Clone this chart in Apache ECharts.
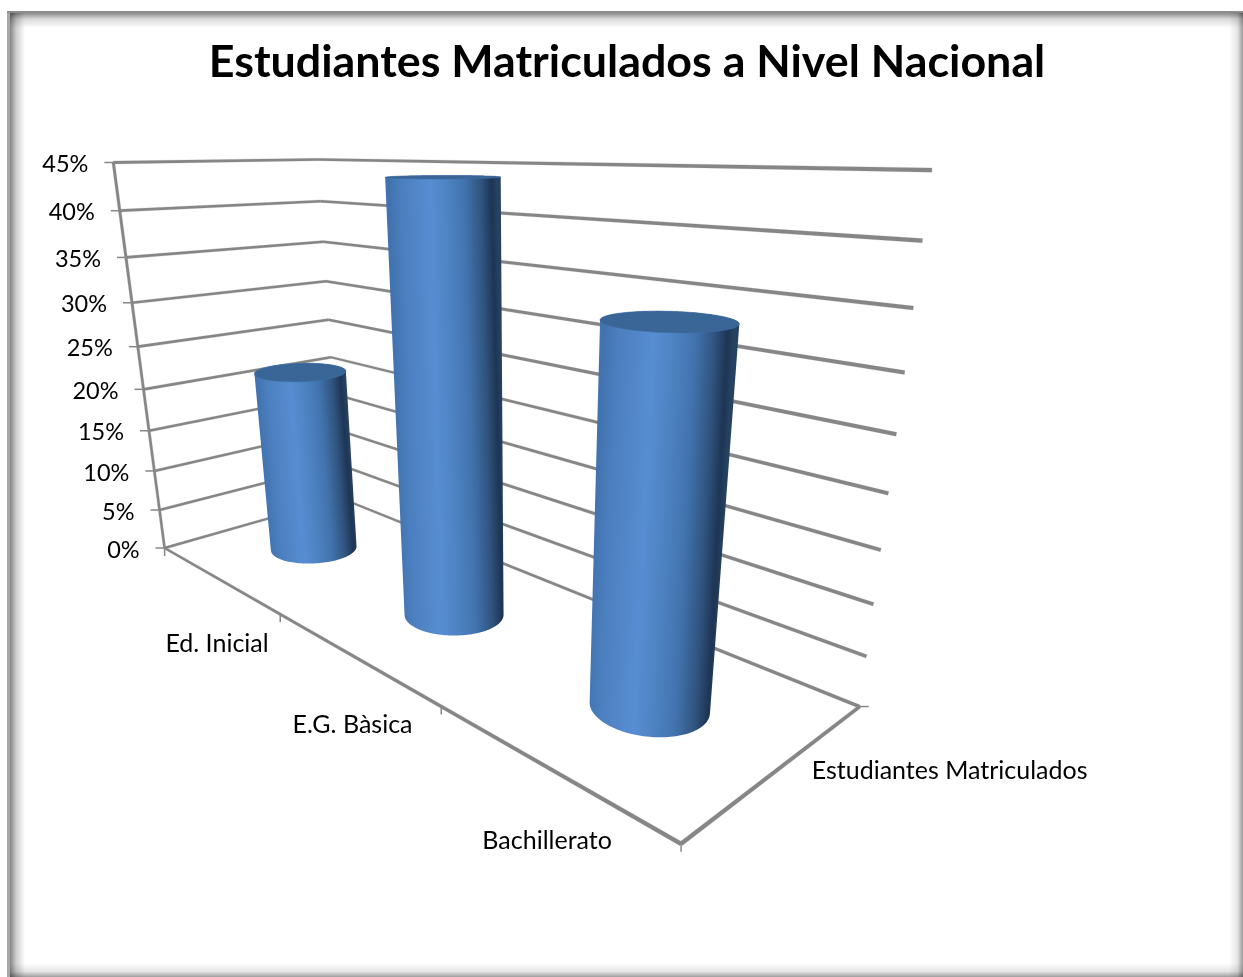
<!DOCTYPE html>
<html><head><meta charset="utf-8">
<style>html,body{margin:0;padding:0;background:#fff}#c{width:1243px;height:977px}</style>
<script src="https://cdn.jsdelivr.net/npm/echarts@6/dist/echarts.min.js"></script>
</head><body><div id="c"></div>
<script>
const chartTitle = 'Estudiantes Matriculados a Nivel Nacional';
const categories = ['Ed. Inicial', 'E.G. Bàsica', 'Bachillerato'];
const seriesName = 'Estudiantes Matriculados';
const values = [22, 44, 34];
const tickValues = [0, 5, 10, 15, 20, 25, 30, 35, 40, 45];
const tickLabels = ['0%', '5%', '10%', '15%', '20%', '25%', '30%', '35%', '40%', '45%'];

// camera calibration: screen positions of the three wall edges (perspective view of the axes)
const edgeFrontLeft = [[164,548],[159.5,509.5],[154.5,471],[149,431],[144,389.5],[138.5,347],[132,302.5],[126,257.5],[119.5,210.5],[113,162.5]];
const edgeBackLeft = {20:[331,357.5],25:[328.5,320],30:[326,281],35:[323.3,241.7],40:[320.5,201.3],45:[318,159.3]};
const edgeBackRight = [[859,706.5],[867,657],[874,604],[881,549],[888,493],[896,435],[904.5,372.5],[913.5,308.3],[922.5,240.7],[931.7,170]];
const cornerFrontRight = [681,844];

function solveCamera() {
  const pts = [];
  tickValues.forEach((t, i) => {
    pts.push([0, 0, t / 45, edgeFrontLeft[i]]);
    pts.push([1, 1, t / 45, edgeBackRight[i]]);
    if (edgeBackLeft[t]) pts.push([0, 1, t / 45, edgeBackLeft[t]]);
  });
  pts.push([1, 0, 0, cornerFrontRight]);
  const n = 11, A = [], b = [];
  for (let i = 0; i < n; i++) { A.push(new Array(n).fill(0)); b.push(0); }
  const add = (row, r) => {
    for (let i = 0; i < n; i++) { b[i] += row[i] * r; for (let j = 0; j < n; j++) A[i][j] += row[i] * row[j]; }
  };
  pts.forEach(([u, v, w, s]) => {
    const x = s[0] / 1000, y = s[1] / 1000;
    add([u, v, w, 1, 0, 0, 0, 0, -x * u, -x * v, -x * w], x);
    add([0, 0, 0, 0, u, v, w, 1, -y * u, -y * v, -y * w], y);
  });
  for (let i = 0; i < n; i++) {
    let m = i;
    for (let r = i + 1; r < n; r++) if (Math.abs(A[r][i]) > Math.abs(A[m][i])) m = r;
    [A[i], A[m]] = [A[m], A[i]]; [b[i], b[m]] = [b[m], b[i]];
    for (let r = 0; r < n; r++) {
      if (r === i) continue;
      const f = A[r][i] / A[i][i];
      for (let c = i; c < n; c++) A[r][c] -= f * A[i][c];
      b[r] -= f * b[i];
    }
  }
  return b.map((bi, i) => bi / A[i][i]);
}
const P = solveCamera();
const den = (u, v, w) => P[8] * u + P[9] * v + P[10] * w + 1;
const project = (u, v, w) => {
  const d = den(u, v, w);
  return [1000 * (P[0] * u + P[1] * v + P[2] * w + P[3]) / d, 1000 * (P[4] * u + P[5] * v + P[6] * w + P[7]) / d];
};

const LINE = '#868686';
const refDen = den(0, 1, 0);
function seg(a, b, base) {
  const p = project(...a), q = project(...b);
  const wa = refDen / den(...a) * base / 2, wb = refDen / den(...b) * base / 2;
  const dx = q[0] - p[0], dy = q[1] - p[1], l = Math.hypot(dx, dy), nx = -dy / l, ny = dx / l;
  return { type: 'polygon', shape: { points: [[p[0] + nx * wa, p[1] + ny * wa], [q[0] + nx * wb, q[1] + ny * wb], [q[0] - nx * wb, q[1] - ny * wb], [p[0] - nx * wa, p[1] - ny * wa]] }, style: { fill: LINE, stroke: LINE, lineWidth: 0.2 } };
}
function tick(p, dx, dy) {
  return { type: 'line', shape: { x1: p[0], y1: p[1], x2: p[0] + dx, y2: p[1] + dy }, style: { stroke: LINE, lineWidth: 1.5 } };
}
function label(text, x, y, align, size) {
  return { type: 'text', style: { x, y, text, align, verticalAlign: 'middle', fill: '#000', font: size + 'px Lato' } };
}
const norm = (params, pt) => {
  const c = params.coordSys;
  return [(pt[0] - c.x) / c.width, (c.y + c.height - pt[1]) / c.height];
};

// local floor basis so that a real circle appears as a level ellipse
const FLATNESS = 0.42, RADIUS = 49.5, BAR_U_SHIFT = -0.0015;
const floorBasis = (() => {
  const e = 1e-3, c = project(.5, .5, 0), a = project(.5 + e, .5, 0), b = project(.5, .5 + e, 0);
  const j11 = (a[0] - c[0]) / e, j21 = (a[1] - c[1]) / e, j12 = (b[0] - c[0]) / e, j22 = (b[1] - c[1]) / e;
  const det = j11 * j22 - j12 * j21;
  const inv = (x, y) => [(j22 * x - j12 * y) / det, (-j21 * x + j11 * y) / det];
  return { e1: inv(1, 0), e2: inv(0, FLATNESS) };
})();
const shadeStops = [[0,'#4273b0'],[.12,'#4c7fbf'],[.38,'#578dd2'],[.5,'#5086c6'],[.7,'#4273ae'],[.85,'#30547f'],[.95,'#1e3554'],[1,'#264263']];
function renderBar(params, api) {
  const [u0, w] = norm(params, api.coord([api.value(0), api.value(1)]));
  const u = u0 + BAR_U_SHIFT;
  const N = 144, v0 = .5, base = [], top = [];
  for (let i = 0; i < N; i++) {
    const th = i / N * 2 * Math.PI, c = Math.cos(th) * RADIUS, s = Math.sin(th) * RADIUS;
    const du = c * floorBasis.e1[0] + s * floorBasis.e2[0], dv = c * floorBasis.e1[1] + s * floorBasis.e2[1];
    base.push(project(u + du, v0 + dv, 0));
    top.push(project(u + du, v0 + dv, w));
  }
  // convex outline of the two end rings
  const all = base.concat(top).map(p => p.slice()).sort((a, b) => a[0] - b[0] || a[1] - b[1]);
  const cross = (o, a, b) => (a[0] - o[0]) * (b[1] - o[1]) - (a[1] - o[1]) * (b[0] - o[0]);
  const half = pts => { const h = []; pts.forEach(p => { while (h.length > 1 && cross(h[h.length - 2], h[h.length - 1], p) <= 0) h.pop(); h.push(p); }); h.pop(); return h; };
  const hull = half(all).concat(half(all.slice().reverse()));
  const ext = ring => { let l = ring[0], r = ring[0]; ring.forEach(p => { if (p[0] < l[0]) l = p; if (p[0] > r[0]) r = p; }); return [l, r]; };
  const [bl, br] = ext(base), [tl, tr] = ext(top);
  const L = [(bl[0] + tl[0]) / 2, (bl[1] + tl[1]) / 2], R = [(br[0] + tr[0]) / 2, (br[1] + tr[1]) / 2];
  let ax = (tl[0] + tr[0] - bl[0] - br[0]) / 2, ay = (tl[1] + tr[1] - bl[1] - br[1]) / 2;
  const al = Math.hypot(ax, ay); ax /= al; ay /= al;
  const dx = R[0] - L[0], dy = R[1] - L[1], d = dx * ax + dy * ay;
  const gx = dx - d * ax, gy = dy - d * ay;
  const fill = new echarts.graphic.LinearGradient(L[0], L[1], L[0] + gx, L[1] + gy, shadeStops.map(s => ({ offset: s[0], color: s[1] })), true);
  return { type: 'group', children: [
    { type: 'polygon', shape: { points: hull }, style: { fill } },
    { type: 'polygon', shape: { points: top }, style: { fill: '#3a6597', stroke: '#3f6b9f', lineWidth: .6 } }
  ] };
}

const option = {
  animation: false,
  backgroundColor: '#fff',
  title: { text: chartTitle, left: 622, top: 35, textAlign: 'center', textStyle: { fontFamily: 'Lato', fontWeight: 'bold', fontSize: 44.8, color: '#000' } },
  grid: { left: 100, right: 100, top: 150, bottom: 150 },
  xAxis: { type: 'category', data: categories, show: false },
  yAxis: { type: 'value', min: 0, max: 45, interval: 5, show: false },
  graphic: [
    { type: 'rect', z: 100, shape: { x: 7, y: 11, width: 3, height: 966 }, style: { fill: '#a8a8a8' } },
    { type: 'rect', z: 100, shape: { x: 7, y: 11, width: 1236, height: 2 }, style: { fill: '#8c8c8c' } },
    { type: 'rect', z: 99, shape: { x: 10, y: 12, width: 15, height: 965 }, style: { fill: new echarts.graphic.LinearGradient(0, 0, 1, 0, [{ offset: 0, color: 'rgba(0,0,0,.48)' }, { offset: .4, color: 'rgba(0,0,0,.2)' }, { offset: 1, color: 'rgba(0,0,0,0)' }]) } },
    { type: 'rect', z: 99, shape: { x: 10, y: 13, width: 1233, height: 15 }, style: { fill: new echarts.graphic.LinearGradient(0, 0, 0, 1, [{ offset: 0, color: 'rgba(0,0,0,.45)' }, { offset: .4, color: 'rgba(0,0,0,.15)' }, { offset: 1, color: 'rgba(0,0,0,0)' }]) } },
    { type: 'rect', z: 99, shape: { x: 1229, y: 12, width: 14, height: 965 }, style: { fill: new echarts.graphic.LinearGradient(0, 0, 1, 0, [{ offset: 0, color: 'rgba(0,0,0,0)' }, { offset: .6, color: 'rgba(0,0,0,.1)' }, { offset: 1, color: 'rgba(0,0,0,.4)' }]) } },
    { type: 'rect', z: 99, shape: { x: 10, y: 963, width: 1233, height: 14 }, style: { fill: new echarts.graphic.LinearGradient(0, 0, 0, 1, [{ offset: 0, color: 'rgba(0,0,0,0)' }, { offset: .6, color: 'rgba(0,0,0,.1)' }, { offset: 1, color: 'rgba(0,0,0,.38)' }]) } }
  ],
  series: [
    { // gridlines on both walls, value ticks and labels
      type: 'custom', coordinateSystem: 'cartesian2d', clip: false, silent: true, z: 1,
      data: tickValues.map((t, i) => [0, t, i]),
      renderItem(params, api) {
        const [, w] = norm(params, api.coord([0, api.value(1)]));
        const p = project(0, 0, w);
        return { type: 'group', children: [
          seg([0, 0, w], [0, 1, w], 2.2), seg([0, 1, w], [1, 1, w], 2.2),
          tick(p, -9, 0),
          label(tickLabels[api.value(2)], p[0] - 25, p[1] + 2, 'right', 23.5)
        ] };
      }
    },
    { // floor axes, category ticks and labels
      type: 'custom', coordinateSystem: 'cartesian2d', clip: false, silent: true, z: 2,
      data: categories.map((c, i) => [i, 0]),
      renderItem(params, api) {
        const i = api.value(0);
        const [u] = norm(params, api.coord([i, 0]));
        const step = 1 / categories.length;
        const lp = project(u, 0, 0), tp = project(u + step / 2, 0, 0);
        const children = [tick(tp, 0, 8), label(categories[i], lp[0] - 1, lp[1] + 63 + 12 * u, 'center', 25)];
        if (i === 0) {
          children.push(seg([0, 0, 0], [1, 0, 0], 2.2), seg([0, 0, 0], [0, 0, 1], 2.2), seg([1, 0, 0], [1, 1, 0], 2.2));
          const o = project(0, 0, 0), b = project(1, 1, 0);
          children.push(tick(o, 0, 8), tick(b, 9, 0), label(seriesName, b[0] - 48, b[1] + 64, 'left', 25));
        }
        return { type: 'group', children };
      }
    },
    {
      name: seriesName, type: 'custom', coordinateSystem: 'cartesian2d', clip: false, silent: true, z: 3,
      data: values.map((v, i) => [i, v]),
      renderItem: renderBar
    }
  ]
};
echarts.init(document.getElementById('c'), null, { renderer: 'canvas' }).setOption(option);
</script></body></html>
